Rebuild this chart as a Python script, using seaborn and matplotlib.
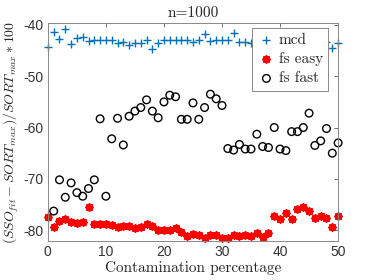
import numpy as np
import pandas as pd
import matplotlib
matplotlib.use('Agg')
import matplotlib.pyplot as plt
import seaborn as sns

contamination = np.arange(0, 51)

mcd = [-44.2, -41.3, -42.8, -40.8, -43.7, -42.6, -42.4, -43.2, -42.9, -42.9,
       -42.9, -43.0, -43.6, -43.4, -43.9, -43.6, -43.6, -43.0, -44.7, -43.6,
       -42.9, -43.0, -43.0, -42.9, -42.9, -43.4, -42.9, -41.8, -43.2, -43.0,
       -43.0, -43.0, -41.6, -43.4, -43.4, -43.6, -43.2, -43.0, -43.3, -42.8,
       -43.1, -43.4, -43.0, -42.9, -43.2, -43.5, -43.1, -43.0, -43.3, -44.4,
       -43.6]

fs_easy = [-77.4, -79.5, -78.2, -77.9, -78.4, -78.6, -78.5, -75.6, -78.8, -78.8,
           -78.9, -79.0, -79.4, -79.2, -79.2, -79.6, -79.4, -78.8, -79.2, -80.0,
           -79.9, -79.9, -79.6, -80.3, -81.1, -80.7, -81.0, -81.6, -81.0, -81.0,
           -81.6, -81.6, -81.0, -81.1, -81.0, -81.2, -80.5, -81.3, -80.5, -77.2,
           -77.9, -76.7, -77.9, -75.9, -75.5, -76.3, -77.7, -77.2, -77.6, -79.4,
           -77.2]

fs_fast = [np.nan, -76.3, -70.2, -73.6, -70.8, -72.7, -73.4, -71.9, -70.2, -58.3,
           -73.4, -62.2, -58.2, -63.4, -57.8, -56.8, -56.1, -54.6, -56.8, -58.1,
           -55.0, -53.7, -54.0, -58.4, -58.4, -55.2, -58.4, -56.1, -53.5, -54.4,
           -55.7, -64.1, -64.4, -63.3, -64.2, -64.2, -61.3, -63.7, -63.9, -60.0,
           -64.2, -64.5, -60.8, -60.8, -60.0, -57.2, -63.5, -62.6, -60.2, -65.0,
           -63.0]

df = pd.DataFrame({'pct': contamination, 'mcd': mcd,
                   'fs easy': fs_easy, 'fs fast': fs_fast})

sns.set_style('white')
plt.rcParams['mathtext.fontset'] = 'cm'

fig = plt.figure(figsize=(3.74, 2.8), dpi=100)
ax = fig.add_axes([0.128, 0.139, 0.776, 0.780])

sns.scatterplot(data=df, x='pct', y='mcd', marker='+', color='#0072BD',
                s=36, linewidth=1.0, label='mcd', ax=ax, clip_on=False)
sns.scatterplot(data=df, x='pct', y='fs easy', marker=(8, 2, 0), color='red',
                edgecolor='red', s=22, linewidth=1.5, label='fs easy', ax=ax,
                clip_on=False)
sns.scatterplot(data=df, x='pct', y='fs fast', marker='o', fc='none', ec='black',
                s=30, linewidth=1.0, label='fs fast', ax=ax, clip_on=False)

ax.set_xlim(0, 50)
ax.set_ylim(-82.15, -39.55)
ax.set_xticks([0, 10, 20, 30, 40, 50])
ax.set_yticks([-80, -70, -60, -50, -40])
ax.set_yticklabels(['-80', '-70', '-60', '-50', '-40'])
ax.tick_params(direction='in', top=True, right=True, length=3, width=0.6,
               color='#555555', labelsize=10, labelcolor='#333333', pad=3)
for lab in ax.get_xticklabels() + ax.get_yticklabels():
    lab.set_family('Liberation Sans')
for s in ax.spines.values():
    s.set_color('#888888')
    s.set_linewidth(0.7)

ax.set_title('n=1000', fontsize=11, family='cmr10', pad=4)
ax.set_xlabel('Contamination percentage', fontsize=11, family='cmr10', labelpad=1)
ax.set_ylabel(r'$(SSO_{fit}-SORT_{max})/SORT_{max}*100$', fontsize=10, labelpad=2)

leg = ax.legend(loc='upper right', bbox_to_anchor=(0.966, 0.976), borderaxespad=0,
                fancybox=False, framealpha=1, edgecolor='#888888',
                prop={'family': 'cmr10', 'size': 11}, handletextpad=0.2,
                borderpad=0.35, labelspacing=0.35, handlelength=1.2)
leg.get_frame().set_linewidth(0.7)
leg.set_zorder(5)

fig.savefig('out.png', dpi=100)
